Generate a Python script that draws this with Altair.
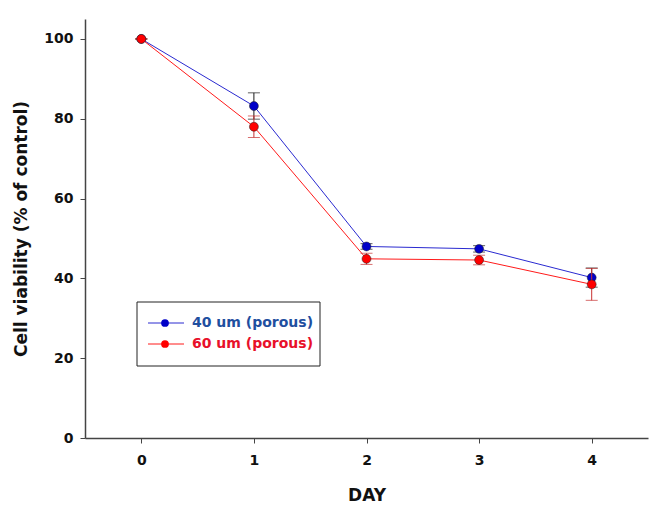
import altair as alt
import pandas as pd

days = [0, 1, 2, 3, 4]
series_names = ["40 um (porous)", "60 um (porous)"]
viab_40 = [100, 83.2, 48.0, 47.4, 40.2]
err_40 = [0, 3.3, 0.7, 0.8, 2.4]
viab_60 = [100, 78.0, 44.9, 44.6, 38.5]
err_60 = [0, 2.7, 1.4, 1.2, 4.0]

line_colors = ["#2a2ad0", "#ff1a1a"]
point_colors = ["#0000c8", "#ff0000"]
err_colors = ["#1a1a1a", "#c83232"]
text_colors = ["#1f4f9f", "#e8102a"]

rows = []
for name, vals, errs in [(series_names[0], viab_40, err_40), (series_names[1], viab_60, err_60)]:
    for d, v, e in zip(days, vals, errs):
        rows.append({"day": d, "value": v, "lo": v - e, "hi": v + e, "series": name})
df = pd.DataFrame(rows)

FONT = "DejaVu Sans"
W, H = 563, 419

x = alt.X("day:Q", scale=alt.Scale(domain=[-0.5, 4.5], nice=False, zero=False),
          axis=alt.Axis(values=days, title="DAY", grid=False, format="d",
                        labelFont=FONT, labelFontSize=14, labelFontWeight="bold", labelColor="#111",
                        labelPadding=10, tickSize=5, tickColor="#444", domainColor="#444", domainWidth=1.5,
                        titleFont=FONT, titleFontSize=17, titleFontWeight="bold", titleColor="#111",
                        titleBaseline="middle", titleY=57))
y = alt.Y("value:Q", scale=alt.Scale(domain=[0, 105], nice=False),
          axis=alt.Axis(values=[0, 20, 40, 60, 80, 100], title="Cell viability (% of control)", grid=False,
                        labelFont=FONT, labelFontSize=14, labelFontWeight="bold", labelColor="#111",
                        labelPadding=7, tickSize=5, tickColor="#444", domainColor="#444", domainWidth=1.5,
                        titleFont=FONT, titleFontSize=17, titleFontWeight="bold", titleColor="#111",
                        titleBaseline="middle", titleX=-64))

layers = []
for i, name in enumerate(series_names):
    sub = df[df.series == name]
    base = alt.Chart(sub)
    line = base.mark_line(color=line_colors[i], strokeWidth=1).encode(x=x, y=y)
    err = base.mark_rule(color=err_colors[i], strokeWidth=1).encode(x="day:Q", y="lo:Q", y2="hi:Q")
    caps_hi = base.mark_tick(color=err_colors[i], thickness=1, size=12, orient="horizontal").encode(
        x="day:Q", y="hi:Q")
    caps_lo = base.mark_tick(color=err_colors[i], thickness=1, size=12, orient="horizontal").encode(
        x="day:Q", y="lo:Q")
    pts = base.mark_point(filled=True, size=80, color=point_colors[i], opacity=1,
                          stroke="#202020", strokeWidth=0.5).encode(x="day:Q", y="value:Q")
    layers += [line, err, caps_hi, caps_lo, pts]

# manual legend
leg_df = pd.DataFrame({"series": series_names})
box = alt.Chart(pd.DataFrame({"a": [0]})).mark_rect(fill="white", stroke="#222", strokeWidth=1).encode(
    x=alt.value(52), x2=alt.value(235), y=alt.value(283), y2=alt.value(347))
layers.append(box)
row_y = [304, 325]
for i, name in enumerate(series_names):
    ld = alt.Chart(leg_df[leg_df.series == name])
    layers.append(ld.mark_rule(color=line_colors[i], strokeWidth=1).encode(
        x=alt.value(63), x2=alt.value(99), y=alt.value(row_y[i])))
    layers.append(ld.mark_point(filled=True, size=60, color=point_colors[i], opacity=1).encode(
        x=alt.value(80), y=alt.value(row_y[i])))
    layers.append(ld.mark_text(align="left", baseline="middle", font=FONT, fontSize=14,
                               fontWeight="bold", color=text_colors[i]).encode(
        x=alt.value(107), y=alt.value(row_y[i]), text="series:N"))

chart = alt.layer(*layers).properties(
    width=W, height=H,
    background="white",
    autosize=alt.AutoSizeParams(type="none"),
    padding={"left": 77, "top": 11, "right": 3, "bottom": 70},
).configure_view(strokeWidth=0, stroke="transparent")

chart.save("out.html", embed_options={"renderer": "svg", "actions": False})
